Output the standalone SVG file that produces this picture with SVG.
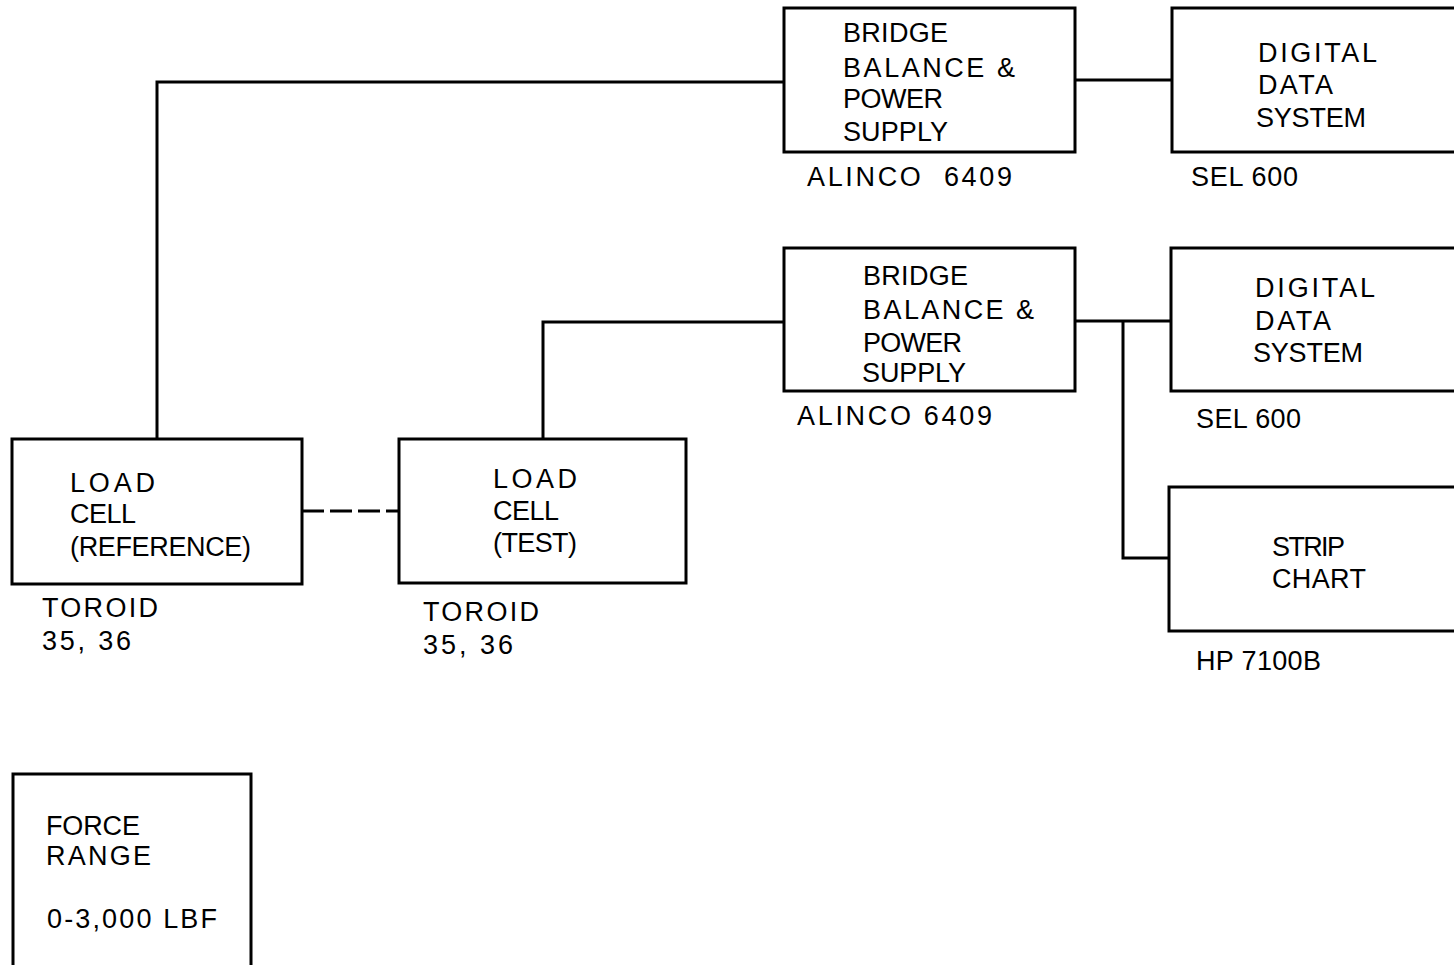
<svg xmlns="http://www.w3.org/2000/svg" width="1454" height="965" viewBox="0 0 1454 965">
<style>
.box{fill:none;stroke:#000;stroke-width:3}
.ln{fill:none;stroke:#000;stroke-width:3}
text{font-family:"Liberation Sans",Arial,sans-serif;font-size:27px;fill:#000}
</style>
<rect width="1454" height="965" fill="#fff"/>
<g id="connectors">
<polyline class="ln" points="157,439 157,82 784,82"/>
<line class="ln" x1="1075" y1="80" x2="1172" y2="80"/>
<polyline class="ln" points="543,439 543,322 784,322"/>
<line class="ln" x1="1075" y1="321" x2="1172" y2="321"/>
<polyline class="ln" points="1123,321 1123,558 1169,558"/>
<line class="ln" x1="302" y1="511" x2="398" y2="511" stroke-dasharray="22,6"/>
</g>
<g id="bridge1">
<rect class="box" x="784" y="8" width="291" height="144"/>
<text x="843" y="42" textLength="105" lengthAdjust="spacing">BRIDGE</text>
<text x="843" y="77" textLength="172" lengthAdjust="spacing">BALANCE &amp;</text>
<text x="843" y="108" textLength="100" lengthAdjust="spacing">POWER</text>
<text x="843" y="141" textLength="105" lengthAdjust="spacing">SUPPLY</text>
<text x="807" y="186" textLength="205" lengthAdjust="spacing" xml:space="preserve">ALINCO  6409</text>
</g>
<g id="dds1">
<rect class="box" x="1172" y="8" width="290" height="144"/>
<text x="1258" y="62" textLength="119" lengthAdjust="spacing">DIGITAL</text>
<text x="1258" y="94" textLength="75" lengthAdjust="spacing">DATA</text>
<text x="1256" y="127" textLength="110" lengthAdjust="spacing">SYSTEM</text>
<text x="1191" y="186" textLength="107" lengthAdjust="spacing">SEL 600</text>
</g>
<g id="bridge2">
<rect class="box" x="784" y="248" width="291" height="143"/>
<text x="863" y="285" textLength="105" lengthAdjust="spacing">BRIDGE</text>
<text x="863" y="319" textLength="171" lengthAdjust="spacing">BALANCE &amp;</text>
<text x="863" y="352" textLength="99" lengthAdjust="spacing">POWER</text>
<text x="862" y="382" textLength="104" lengthAdjust="spacing">SUPPLY</text>
<text x="797" y="425" textLength="195" lengthAdjust="spacing">ALINCO 6409</text>
</g>
<g id="dds2">
<rect class="box" x="1171" y="248" width="291" height="143"/>
<text x="1255" y="297" textLength="120" lengthAdjust="spacing">DIGITAL</text>
<text x="1255" y="330" textLength="76" lengthAdjust="spacing">DATA</text>
<text x="1253" y="362" textLength="110" lengthAdjust="spacing">SYSTEM</text>
<text x="1196" y="428" textLength="105" lengthAdjust="spacing">SEL 600</text>
</g>
<g id="stripchart">
<rect class="box" x="1169" y="487" width="293" height="144"/>
<text x="1272" y="556" textLength="73" lengthAdjust="spacing">STRIP</text>
<text x="1272" y="588" textLength="94" lengthAdjust="spacing">CHART</text>
<text x="1196" y="670" textLength="125" lengthAdjust="spacing">HP 7100B</text>
</g>
<g id="loadref">
<rect class="box" x="12" y="439" width="290" height="145"/>
<text x="70" y="492" textLength="85" lengthAdjust="spacing">LOAD</text>
<text x="70" y="523" textLength="66" lengthAdjust="spacing">CELL</text>
<text x="70" y="556" textLength="181" lengthAdjust="spacing">(REFERENCE)</text>
<text x="42" y="617" textLength="116" lengthAdjust="spacing">TOROID</text>
<text x="42" y="650" textLength="89" lengthAdjust="spacing">35, 36</text>
</g>
<g id="loadtest">
<rect class="box" x="399" y="439" width="287" height="144"/>
<text x="493" y="488" textLength="84" lengthAdjust="spacing">LOAD</text>
<text x="493" y="520" textLength="66" lengthAdjust="spacing">CELL</text>
<text x="493" y="552" textLength="84" lengthAdjust="spacing">(TEST)</text>
<text x="423" y="621" textLength="116" lengthAdjust="spacing">TOROID</text>
<text x="423" y="654" textLength="90" lengthAdjust="spacing">35, 36</text>
</g>
<g id="forcerange">
<rect class="box" x="13" y="774" width="238" height="200"/>
<text x="46" y="835" textLength="94" lengthAdjust="spacing">FORCE</text>
<text x="46" y="865" textLength="105" lengthAdjust="spacing">RANGE</text>
<text x="47" y="928" textLength="170" lengthAdjust="spacing">0-3,000 LBF</text>
</g>
</svg>
